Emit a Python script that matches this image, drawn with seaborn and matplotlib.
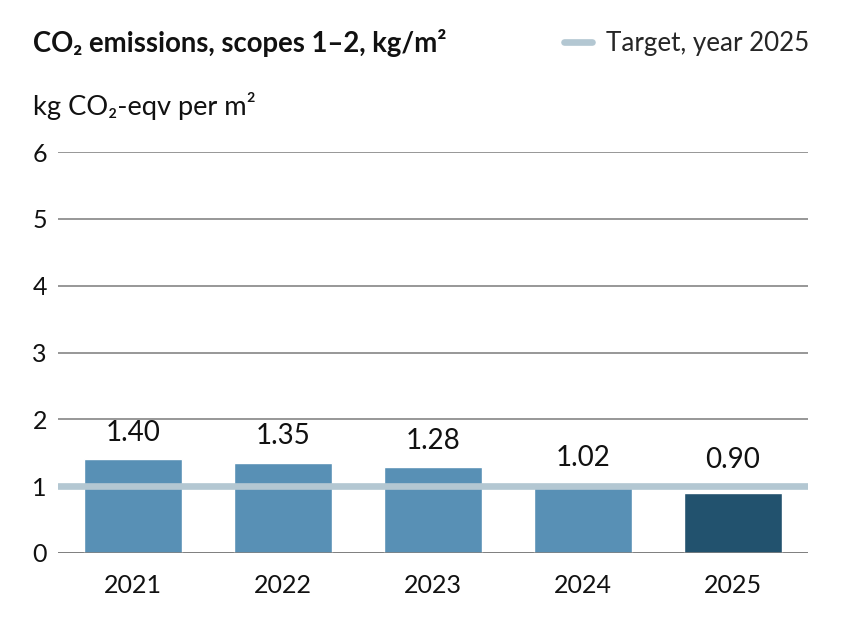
import matplotlib
matplotlib.use("Agg")
import matplotlib.pyplot as plt
import seaborn as sns

# data
years = ["2021", "2022", "2023", "2024", "2025"]
emissions = [1.40, 1.35, 1.28, 1.02, 0.90]
bar_colors = ["#5890b5", "#5890b5", "#5890b5", "#5890b5", "#22526e"]
target_value = 1.0
y_ticks = [0, 1, 2, 3, 4, 5, 6]

sns.set_theme(style="white")
plt.rcParams['font.family'] = ['Lato', 'DejaVu Sans']

fig = plt.figure(figsize=(8.47, 6.38), dpi=100)
ax = fig.add_axes([58 / 847, 1 - 553 / 638, 750 / 847, 401 / 638])

sns.barplot(x=years, y=emissions, hue=years, palette=bar_colors, legend=False,
            width=0.65, saturation=1, ax=ax, zorder=2)

# target line
target_line = ax.axhline(target_value, color="#b3c7d2", lw=4.8, zorder=3,
                         label="Target, year 2025")
ax.axhline(0, color="#7a7a7a", lw=1.1, zorder=4)

# value labels
for i, v in enumerate(emissions):
    ax.text(i, max(v, target_value) + 0.2, f"{v:.2f}", ha="center", va="bottom",
            fontsize=20, color="#111111")

ax.set_xlim(-0.5, 4.5)
ax.set_ylim(0, 6)
ax.set_yticks(y_ticks)
ax.yaxis.grid(True, color="#7a7a7a", lw=1.1, zorder=0)
ax.set_axisbelow(True)
for s in ax.spines.values():
    s.set_visible(False)
ax.tick_params(axis="y", labelsize=18, pad=8, length=0, colors="#111111")
ax.tick_params(axis="x", labelsize=18, pad=15, length=0, colors="#111111")
ax.set_xlabel("")
ax.set_ylabel("")

fig.text(33 / 847, 1 - 52 / 638, "CO₂ emissions, scopes 1–2, kg/m²",
         fontsize=19.8, fontweight="bold", va="baseline", ha="left", color="#111111")
fig.text(33 / 847, 1 - 115 / 638, "kg CO₂-eqv per m²",
         fontsize=19.6, va="baseline", ha="left", color="#111111")

fig.legend(handles=[target_line], loc="center right",
           bbox_to_anchor=(820 / 847, 1 - 44 / 638), frameon=False,
           fontsize=18.7, handlelength=1.08, handletextpad=0.54, borderaxespad=0)

plt.savefig("out.png", dpi=100)
plt.close()
